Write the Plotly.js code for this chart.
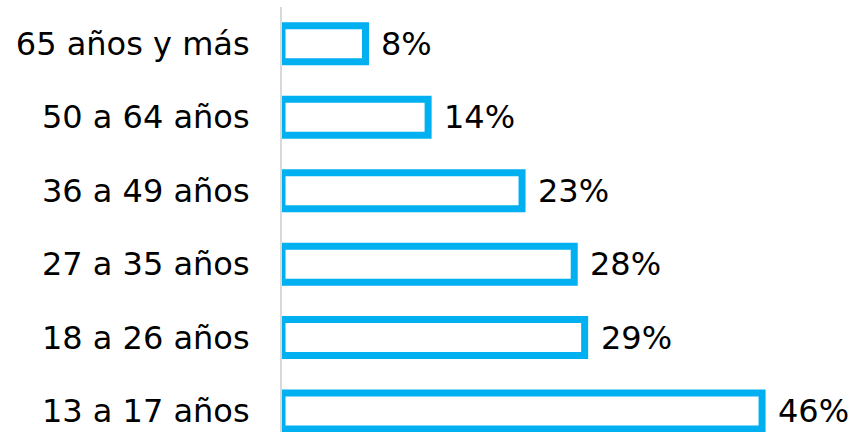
<!DOCTYPE html>
<html><head><meta charset="utf-8">
<script src="https://cdn.plot.ly/plotly-3.0.1.min.js"></script>
<style>body{margin:0;background:#fff}#c{width:856px;height:432px}</style>
</head><body><div id="c"></div>
<script>
const categories = ["13 a 17 años","18 a 26 años","27 a 35 años","36 a 49 años","50 a 64 años","65 años y más"];
const values = [46, 29, 28, 23, 14, 8];
const valueLabels = ["46%","29%","28%","23%","14%","8%"];

const font = "Verdana, DejaVu Sans, sans-serif";
const trace = {
  type: "bar", orientation: "h",
  x: values, y: categories,
  marker: {color: "#ffffff", line: {color: "#00B0F0", width: 7}},
  hoverinfo: "none"
};
const annotations = values.map((v, i) => ({
  x: v, y: categories[i], xref: "x", yref: "y",
  text: valueLabels[i], showarrow: false, xanchor: "left", yanchor: "middle",
  xshift: 14, font: {family: font, size: 32, color: "#000"}
}));
const layout = {
  width: 856, height: 432,
  margin: {l: 282, r: 0, t: 7, b: 0},
  paper_bgcolor: "#fff", plot_bgcolor: "#fff",
  showlegend: false, bargap: 0.51,
  xaxis: {range: [0, 55], visible: false, fixedrange: true},
  yaxis: {
    type: "category", range: [-0.285, 5.5],
    showline: true, linecolor: "#D9D9D9", linewidth: 2,
    showgrid: false, zeroline: false, ticks: "",
    ticklabelstandoff: 24,
    tickfont: {family: font, size: 32, color: "#000"}
  },
  annotations: annotations
};
Plotly.newPlot("c", [trace], layout, {staticPlot: true});
</script>
</body></html>
